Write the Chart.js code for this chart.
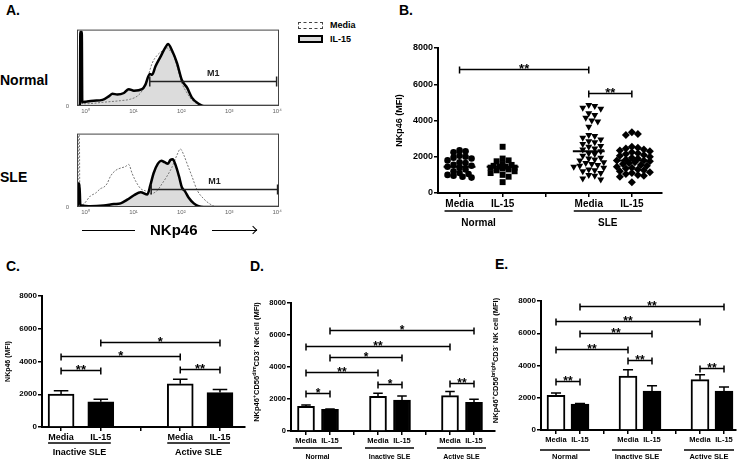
<!DOCTYPE html>
<html>
<head>
<meta charset="utf-8">
<title>NKp46</title>
<script src="https://cdn.jsdelivr.net/npm/chart.js@4.4.1/dist/chart.umd.min.js"></script>
<style>
  body { margin: 0; background: #fff; }
  #fig { position: relative; width: 740px; height: 459px; overflow: hidden; font-family: 'Liberation Sans', Arial, sans-serif; }
  #fig canvas { position: absolute; }
  .t { position: absolute; font-weight: bold; white-space: nowrap; line-height: 1; color: #000; }
  .ln { position: absolute; height: 0; border-top: 1.5px solid #000; }
</style>
</head>
<body>
<div id="fig">
  <div class="t" style="left:6px;top:3px;font-size:14px">A.</div>
  <div class="t" style="left:399px;top:3px;font-size:14px">B.</div>
  <div class="t" style="left:6px;top:259px;font-size:14px">C.</div>
  <div class="t" style="left:250px;top:259px;font-size:14px">D.</div>
  <div class="t" style="left:495px;top:257px;font-size:14px">E.</div>

  <div class="t" style="left:0;top:73px;font-size:14px">Normal</div>
  <div class="t" style="left:0;top:170px;font-size:14px">SLE</div>

  <!-- légende A -->
  <div style="position:absolute;left:298px;top:22px;width:23px;height:5px;border:1px dashed #444"></div>
  <div class="t" style="left:330px;top:21px;font-size:9px">Media</div>
  <div style="position:absolute;left:298px;top:35px;width:21px;height:4px;border:2.5px solid #000;background:#dcdcdc"></div>
  <div class="t" style="left:330px;top:35px;font-size:9px">IL-15</div>

  <canvas id="histTop" width="230" height="100" style="left:55px;top:18px"></canvas>
  <canvas id="histBottom" width="230" height="100" style="left:55px;top:122px"></canvas>

  <div class="ln" style="left:82px;top:230px;width:53px"></div>
  <div class="t" style="left:150px;top:222px;font-size:15px">NKp46</div>
  <div class="ln" style="left:212px;top:230px;width:45px"></div>
  <div style="position:absolute;left:250px;top:227px;width:5px;height:5px;border-top:1.5px solid #000;border-right:1.5px solid #000;transform:rotate(45deg)"></div>

  <canvas id="chartB" width="300" height="205" style="left:370px;top:30px"></canvas>
  <canvas id="chartC" width="250" height="179" style="left:0;top:280px"></canvas>
  <canvas id="chartD" width="248" height="179" style="left:250px;top:280px"></canvas>
  <canvas id="chartE" width="252" height="179" style="left:488px;top:280px"></canvas>
</div>

<script>
// ---------- Données ----------

// A : histogrammes de cytométrie (x en décades log10, y en % de la hauteur du cadre)
const aDecades = ['10⁰', '10¹', '10²', '10³', '10⁴'];
const aXMin = -0.18, aXMax = 4.04;
const aNormalMedia = [[-0.18,0],[-0.12,0],[-0.11,96],[-0.09,96],[-0.08,3],[0.03,3],[0.38,5],[0.73,7],[0.94,9],[1.08,13],[1.18,20],[1.29,36],[1.39,56],[1.49,66],[1.60,72],[1.70,76],[1.77,72],[1.84,66],[1.91,52],[2.01,30],[2.12,17],[2.22,8],[2.36,2],[2.47,0],[4.04,0]];
const aNormalIl15 = [[-0.18,0],[-0.12,0],[-0.11,97],[-0.08,97],[-0.07,5],[0.03,6],[0.17,7],[0.35,8],[0.49,13],[0.56,16],[0.66,15],[0.80,17],[0.90,22],[1.01,20],[1.18,22],[1.25,28],[1.34,42],[1.39,41],[1.46,52],[1.56,64],[1.67,77],[1.72,81],[1.81,72],[1.91,56],[2.01,34],[2.12,24],[2.22,11],[2.36,3],[2.47,0],[4.04,0]];
const aSleMedia = [[-0.18,0],[-0.16,0],[-0.15,98],[-0.13,98],[-0.12,2],[-0.04,4],[0.10,15],[0.21,19],[0.31,25],[0.38,27],[0.45,32],[0.52,42],[0.63,50],[0.73,53],[0.83,55],[0.90,58],[0.97,46],[1.04,36],[1.15,25],[1.25,22],[1.35,18],[1.49,22],[1.60,32],[1.70,42],[1.81,55],[1.91,71],[1.98,79],[2.05,71],[2.12,59],[2.22,42],[2.33,23],[2.47,11],[2.60,4],[2.74,0],[4.04,0]];
const aSleIl15 = [[-0.18,0],[-0.16,0],[-0.15,32],[-0.13,32],[-0.11,3],[-0.08,2],[0.10,1],[0.38,2],[0.59,4],[0.73,5],[0.87,10],[1.01,16],[1.15,20],[1.29,17],[1.35,29],[1.42,46],[1.51,59],[1.58,63],[1.65,61],[1.72,59],[1.77,64],[1.82,65],[1.88,57],[1.95,42],[2.01,27],[2.08,21],[2.15,13],[2.26,5],[2.36,1],[2.47,0],[4.04,0]];
const aGateTop = [1.34, 3.99, 33];      // début, fin, hauteur du marqueur M1
const aGateBottom = [1.37, 4.01, 24];

// B : nuage de points NKp46 (MFI)
const bGroups = ['Normal', 'SLE'];
const bNormalMedia = [2350, 2300, 2250, 2050, 2000, 1950, 1900, 1800, 1700, 1650, 1550, 1500, 1450, 1400, 1300, 1200, 1100, 1050, 1000, 950, 900, 850];
const bNormalIl15 = [2550, 1900, 1800, 1750, 1600, 1550, 1500, 1450, 1450, 1400, 1400, 1350, 1300, 1250, 1200, 1100, 1000, 900, 600];
const bSleMedia = [4850, 4800, 4700, 4650, 4400, 4300, 4150, 4000, 3950, 3650, 3200, 3150, 3050, 2950, 2850, 2800, 2700, 2600, 2550, 2450, 2400, 2300, 2200, 2150, 2050, 1950, 1900, 1850, 1800, 1700, 1650, 1600, 1550, 1500, 1450, 1400, 1300, 1250, 1200, 1100, 1000, 950, 800, 750];
const bSleIl15 = [3350, 3250, 3200, 2550, 2500, 2450, 2400, 2350, 2300, 2250, 2200, 2150, 2100, 2050, 2000, 1950, 1900, 1850, 1800, 1800, 1750, 1700, 1650, 1600, 1550, 1500, 1450, 1400, 1350, 1300, 1250, 1200, 1150, 1100, 1050, 1000, 950, 900, 600];
const bMeans = [1450, 1450, 2300, 1800];
const bSig = [[0, 2, 6850, '**'], [2, 3, 5520, '**']];

// C : NKp46 (MFI), LES inactif / actif
const cGroups = ['Inactive SLE', 'Active SLE'];
const cMedia = [2010, 2640];
const cMediaSem = [210, 270];
const cIl15 = [1540, 2100];
const cIl15Sem = [150, 190];
const cSig = [[0, 1, 3500, '**'], [0, 2, 4330, '*'], [1, 3, 5180, '*'], [2, 3, 3540, '**']];

// D : NKp46+ CD56dim CD3- NK
const dGroups = ['Normal', 'Inactive SLE', 'Active SLE'];
const dMedia = [1540, 2170, 2210];
const dMediaSem = [80, 190, 260];
const dIl15 = [1350, 1940, 1790];
const dIl15Sem = [30, 250, 190];
const dSig = [[0, 1, 2400, '*'], [2, 3, 2940, '*'], [4, 5, 2980, '**'], [0, 2, 3710, '**'], [1, 3, 4600, '*'], [0, 4, 5310, '**'], [1, 5, 6310, '*']];
const dYTitle = [['NKp46', 0], ['+', 1], ['CD56', 0], ['dim', 1], ['CD3', 0], ['-', 1], [' NK cell (MFI)', 0]];

// E : NKp46+ CD56bright CD3- NK
const eGroups = ['Normal', 'Inactive SLE', 'Active SLE'];
const eMedia = [2150, 3350, 3120];
const eMediaSem = [150, 380, 310];
const eIl15 = [1600, 2420, 2420];
const eIl15Sem = [50, 320, 250];
const eSig = [[0, 1, 3040, '**'], [2, 3, 4350, '**'], [4, 5, 3860, '**'], [0, 2, 5030, '**'], [1, 3, 5990, '**'], [0, 4, 6730, '**'], [1, 5, 7690, '**']];
const eYTitle = [['NKp46', 0], ['+', 1], ['CD56', 0], ['bright', 1], ['CD3', 0], ['-', 1], [' NK cell (MFI)', 0]];

// ---------- Mise en forme ----------
const FONT = "'Liberation Sans', Arial, sans-serif";
Chart.defaults.font.family = FONT;
Chart.defaults.color = '#000';

// cadre + marqueur M1 des histogrammes
const histFrame = {
  id: 'histFrame',
  afterDatasetsDraw(chart, args, o) {
    const { ctx, chartArea: a, scales: { x, y } } = chart;
    ctx.save();
    ctx.strokeStyle = '#444'; ctx.lineWidth = 1;
    ctx.strokeRect(a.left + 0.5, a.top + 0.5, a.right - a.left - 1, a.bottom - a.top - 1);
    const x1 = x.getPixelForValue(o.gate[0]), x2 = x.getPixelForValue(o.gate[1]);
    const yy = Math.round(y.getPixelForValue(o.gate[2])) + 0.5;
    ctx.strokeStyle = '#222'; ctx.lineWidth = 1.5;
    ctx.beginPath();
    ctx.moveTo(x1, yy); ctx.lineTo(x2, yy);
    ctx.moveTo(x1, yy - 5); ctx.lineTo(x1, yy + 5);
    ctx.moveTo(x2, yy - 5); ctx.lineTo(x2, yy + 5);
    ctx.stroke();
    ctx.fillStyle = '#222'; ctx.font = 'bold 9px ' + FONT;
    ctx.textAlign = 'center'; ctx.textBaseline = 'bottom';
    ctx.fillText('M1', (x1 + x2) / 2, yy - 3);
    ctx.restore();
  }
};

function histogram(id, media, il15, gate, xH) {
  const toPts = arr => arr.map(p => ({ x: p[0], y: p[1] }));
  return new Chart(document.getElementById(id), {
    type: 'line',
    data: { datasets: [
      { data: toPts(il15), borderColor: '#000', borderWidth: 2.5, backgroundColor: '#dcdcdc', fill: 'origin', order: 0 },
      { data: toPts(media), borderColor: '#777', borderWidth: 1, borderDash: [2, 1.5], fill: false, order: 1 }
    ]},
    options: {
      responsive: false, animation: false, events: [],
      elements: { point: { radius: 0 }, line: { cubicInterpolationMode: 'monotone' } },
      layout: { padding: { top: 6, right: 6 } },
      plugins: {
        legend: { display: false }, tooltip: { enabled: false },
        filler: { drawTime: 'beforeDatasetsDraw' },
        histFrame: { gate }
      },
      scales: {
        x: {
          type: 'linear', min: aXMin, max: aXMax,
          afterBuildTicks: s => { s.ticks = aDecades.map((t, i) => ({ value: i })); },
          afterFit: s => { s.height = xH; },
          ticks: { callback: v => aDecades[v], font: { size: 6 }, color: '#666', padding: 2, maxRotation: 0, autoSkip: false },
          grid: { display: false, drawTicks: false }, border: { display: false }
        },
        y: {
          min: 0, max: 100,
          afterBuildTicks: s => { s.ticks = [{ value: 0 }]; },
          afterFit: s => { s.width = 22; },
          ticks: { callback: () => '0', font: { size: 6 }, color: '#666', padding: 8 },
          grid: { display: false, drawTicks: false }, border: { display: false }
        }
      }
    },
    plugins: [histFrame]
  });
}

// barres d'erreur (SEM, vers le haut seulement)
const errorBars = {
  id: 'errorBars',
  afterDatasetsDraw(chart, args, o) {
    if (!o.sems) return;
    const { ctx, scales: { x, y } } = chart;
    ctx.save(); ctx.strokeStyle = '#000'; ctx.lineWidth = 1.5;
    o.sems.forEach((sems, di) => {
      chart.data.datasets[di].data.forEach((p, i) => {
        const px = x.getPixelForValue(p.x), top = y.getPixelForValue(p.y), e = y.getPixelForValue(p.y + sems[i]);
        ctx.beginPath();
        ctx.moveTo(px, top); ctx.lineTo(px, e);
        ctx.moveTo(px - o.cap, e); ctx.lineTo(px + o.cap, e);
        ctx.stroke();
      });
    });
    ctx.restore();
  }
};

// crochets de significativité
const brackets = {
  id: 'brackets',
  afterDraw(chart, args, o) {
    const { ctx, scales: { x, y } } = chart;
    ctx.save();
    ctx.strokeStyle = '#000'; ctx.fillStyle = '#000'; ctx.lineWidth = 1.5;
    ctx.font = 'bold ' + o.size + 'px ' + FONT; ctx.textAlign = 'center'; ctx.textBaseline = 'alphabetic';
    o.sig.forEach(([i, j, v, stars]) => {
      const x1 = x.getPixelForValue(o.pos[i]), x2 = x.getPixelForValue(o.pos[j]);
      const yy = Math.round(y.getPixelForValue(v)) + 0.5;
      ctx.beginPath();
      ctx.moveTo(x1, yy); ctx.lineTo(x2, yy);
      ctx.moveTo(x1, yy - 3); ctx.lineTo(x1, yy + 4);
      ctx.moveTo(x2, yy - 3); ctx.lineTo(x2, yy + 4);
      ctx.stroke();
      ctx.fillText(stars, (x1 + x2) / 2, yy + 3);
    });
    ctx.restore();
  }
};

// soulignement + nom de groupe sous l'axe x
const groupLabels = {
  id: 'groupLabels',
  afterDraw(chart, args, o) {
    const { ctx, chartArea: a, scales: { x } } = chart;
    ctx.save();
    ctx.strokeStyle = '#000'; ctx.fillStyle = '#000'; ctx.lineWidth = 1.5;
    ctx.font = 'bold ' + o.size + 'px ' + FONT; ctx.textAlign = 'center'; ctx.textBaseline = 'middle';
    o.groups.forEach((g, i) => {
      const x1 = x.getPixelForValue(o.pos[2 * i]) - o.left, x2 = x.getPixelForValue(o.pos[2 * i + 1]) + o.right;
      ctx.beginPath(); ctx.moveTo(x1, a.bottom + o.lineDy); ctx.lineTo(x2, a.bottom + o.lineDy); ctx.stroke();
      ctx.fillText(g, (x1 + x2) / 2, a.bottom + o.textDy);
    });
    ctx.restore();
  }
};

// titre d'axe y avec exposants (D et E)
const richTitle = {
  id: 'richTitle',
  afterDraw(chart, args, o) {
    if (!o.parts) return;
    const { ctx, chartArea: a } = chart;
    const big = 'bold ' + o.size + 'px ' + FONT, small = 'bold ' + (o.size * 0.7).toFixed(1) + 'px ' + FONT;
    let w = 0;
    o.parts.forEach(p => { ctx.font = p[1] ? small : big; w += ctx.measureText(p[0]).width; });
    ctx.save();
    ctx.translate(o.x, (a.top + a.bottom) / 2 + o.dy);
    ctx.rotate(-Math.PI / 2);
    ctx.textBaseline = 'middle'; ctx.fillStyle = '#000';
    let cx = -w / 2;
    o.parts.forEach(p => {
      ctx.font = p[1] ? small : big;
      ctx.fillText(p[0], cx, p[1] ? -o.size * 0.35 : 0);
      cx += ctx.measureText(p[0]).width;
    });
    ctx.restore();
  }
};

// lignes de moyenne du nuage de points
const meanLines = {
  id: 'meanLines',
  afterDatasetsDraw(chart, args, o) {
    const { ctx, scales: { x, y } } = chart;
    ctx.save(); ctx.strokeStyle = '#000'; ctx.lineWidth = 2;
    o.means.forEach((m, i) => {
      const yy = y.getPixelForValue(m);
      ctx.beginPath();
      ctx.moveTo(x.getPixelForValue(o.pos[i] - o.half), yy);
      ctx.lineTo(x.getPixelForValue(o.pos[i] + o.half), yy);
      ctx.stroke();
    });
    ctx.restore();
  }
};

// libellé de graduation : Media / IL-15 / vide (séparation des groupes)
const tickLabel = v => (v % 3 === 1 ? 'Media' : v % 3 === 2 ? 'IL-15' : '');

function axisX(min, max, nGroups, xH, size) {
  const vals = [];
  for (let v = 1; v <= nGroups * 3 - 1; v++) vals.push(v);
  return {
    type: 'linear', min, max, offset: false,
    afterBuildTicks: s => { s.ticks = vals.map(v => ({ value: v })); },
    afterFit: s => { s.height = xH; },
    ticks: { autoSkip: false, maxRotation: 0, font: { size, weight: 'bold' }, padding: 1, callback: v => tickLabel(v) },
    grid: { drawOnChartArea: false, drawTicks: true, tickLength: 4, color: '#000', lineWidth: 1.5, offset: false },
    border: { display: true, color: '#000', width: 2 }
  };
}

function axisY(yW, size, title) {
  return {
    min: 0, max: 8000,
    afterFit: s => { s.width = yW; },
    ticks: { stepSize: 2000, font: { size, weight: 'bold' }, padding: 1, callback: v => String(v) },
    grid: { drawOnChartArea: false, tickLength: 4, color: '#000', lineWidth: 1.5 },
    border: { color: '#000', width: 2 },
    title: title ? { display: true, text: title.text, font: { size: title.size, weight: 'bold' }, padding: { top: title.pad, bottom: 0 } } : { display: false }
  };
}

function barPanel(id, o) {
  const pos = o.groups.flatMap((g, i) => [i * 3 + 1, i * 3 + 2]);
  const media = o.media.map((v, i) => ({ x: pos[2 * i], y: v }));
  const il15 = o.il15.map((v, i) => ({ x: pos[2 * i + 1], y: v }));
  return new Chart(document.getElementById(id), {
    type: 'bar',
    data: { datasets: [
      { data: media, backgroundColor: '#fff', borderColor: '#000', borderWidth: 2, barThickness: o.barW, grouped: false },
      { data: il15, backgroundColor: '#000', borderColor: '#000', borderWidth: 2, barThickness: o.barW, grouped: false }
    ]},
    options: {
      responsive: false, animation: false, events: [],
      layout: { padding: { top: o.padTop, right: o.padRight, left: 0, bottom: 0 } },
      plugins: {
        legend: { display: false }, tooltip: { enabled: false },
        errorBars: { sems: [o.mediaSem, o.il15Sem], cap: o.barW * 0.28 },
        brackets: { pos, sig: o.sig, size: o.starSize },
        groupLabels: { pos, groups: o.groups, left: o.lineL, right: o.lineR, lineDy: o.lineDy, textDy: o.textDy, size: o.groupSize },
        richTitle: o.rich || {}
      },
      scales: {
        x: axisX(o.min, o.max, o.groups.length, o.xH, o.catSize),
        y: axisY(o.yW, o.tickSize, o.yTitle)
      }
    },
    plugins: [errorBars, brackets, groupLabels, richTitle]
  });
}

// disposition en essaim : écarte seulement les points qui se chevauchent,
// dans une largeur limitée (au-delà, on accepte un chevauchement partiel)
const bXMin = 0.5, bXMax = 5.7;
function swarm(values, center, maxOff) {
  const pxPerX = 224 / (bXMax - bXMin), pxPerY = 145 / 8000, d = 5.2, step = 3;
  const placed = [];
  values.slice().sort((a, b) => b - a).forEach(v => {
    let best = 0, bestGap = -1;
    for (let k = 0; ; k++) {
      const off = (k % 2 ? 1 : -1) * Math.ceil(k / 2) * step;
      if (Math.abs(off) > maxOff) break;
      const gap = placed.reduce((m, p) => Math.min(m, Math.hypot(p.off - off, (p.v - v) * pxPerY)), Infinity);
      if (gap >= d) { best = off; bestGap = gap; break; }
      if (gap > bestGap) { best = off; bestGap = gap; }
    }
    placed.push({ v, off: best });
  });
  return placed.map(p => ({ x: center + p.off / pxPerX, y: p.v }));
}

// ---------- Graphiques ----------
histogram('histTop', aNormalMedia, aNormalIl15, aGateTop, 12);
histogram('histBottom', aSleMedia, aSleIl15, aGateBottom, 15);

const bPos = [1, 2, 4, 5];
new Chart(document.getElementById('chartB'), {
  type: 'scatter',
  data: { datasets: [
    { data: swarm(bNormalMedia, bPos[0], 13), pointStyle: 'circle', pointRadius: 3.3 },
    { data: swarm(bNormalIl15, bPos[1], 13), pointStyle: 'rect', pointRadius: 4.2 },
    { data: swarm(bSleMedia, bPos[2], 18), pointStyle: 'triangle', pointRotation: 180, pointRadius: 4 },
    { data: swarm(bSleIl15, bPos[3], 18), pointStyle: 'rectRot', pointRadius: 4 }
  ].map(d => Object.assign(d, { pointBackgroundColor: '#000', pointBorderColor: '#000', pointBorderWidth: 0 })) },
  options: {
    responsive: false, animation: false, events: [],
    layout: { padding: { top: 18, right: 8, left: 22, bottom: 0 } },
    plugins: {
      legend: { display: false }, tooltip: { enabled: false },
      meanLines: { means: bMeans, pos: bPos, half: 0.37 },
      brackets: { pos: bPos, sig: bSig, size: 13 },
      groupLabels: { pos: bPos, groups: bGroups, left: 15, right: 10, lineDy: 18, textDy: 30, size: 10 }
    },
    scales: {
      x: axisX(bXMin, bXMax, bGroups.length, 42, 10),
      y: axisY(46, 9, { text: 'NKp46 (MFI)', size: 9, pad: 2 })
    }
  },
  plugins: [meanLines, brackets, groupLabels]
});

barPanel('chartC', {
  groups: cGroups, media: cMedia, mediaSem: cMediaSem, il15: cIl15, il15Sem: cIl15Sem, sig: cSig,
  min: 0.52, max: 5.63, barW: 26, yW: 42, xH: 32, padTop: 16, padRight: 5,
  tickSize: 8, catSize: 9, groupSize: 9, starSize: 13,
  lineL: 13, lineR: 10, lineDy: 16, textDy: 26,
  yTitle: { text: 'NKp46 (MFI)', size: 7, pad: 4 }
});

barPanel('chartD', {
  groups: dGroups, media: dMedia, mediaSem: dMediaSem, il15: dIl15, il15Sem: dIl15Sem, sig: dSig,
  min: 0.375, max: 8.875, barW: 17, yW: 41, xH: 28, padTop: 23, padRight: 3,
  tickSize: 7.5, catSize: 7.5, groupSize: 7, starSize: 12,
  lineL: 13, lineR: 12, lineDy: 17, textDy: 26,
  rich: { parts: dYTitle, size: 7.5, x: 7, dy: -5 }
});

barPanel('chartE', {
  groups: eGroups, media: eMedia, mediaSem: eMediaSem, il15: eIl15, il15Sem: eIl15Sem, sig: eSig,
  min: 0.375, max: 8.5, barW: 18, yW: 53, xH: 29, padTop: 21, padRight: 4,
  tickSize: 8, catSize: 7.5, groupSize: 7.5, starSize: 12,
  lineL: 16, lineR: 10, lineDy: 20, textDy: 27,
  rich: { parts: eYTitle, size: 7.5, x: 8, dy: -5 }
});
</script>
</body>
</html>
